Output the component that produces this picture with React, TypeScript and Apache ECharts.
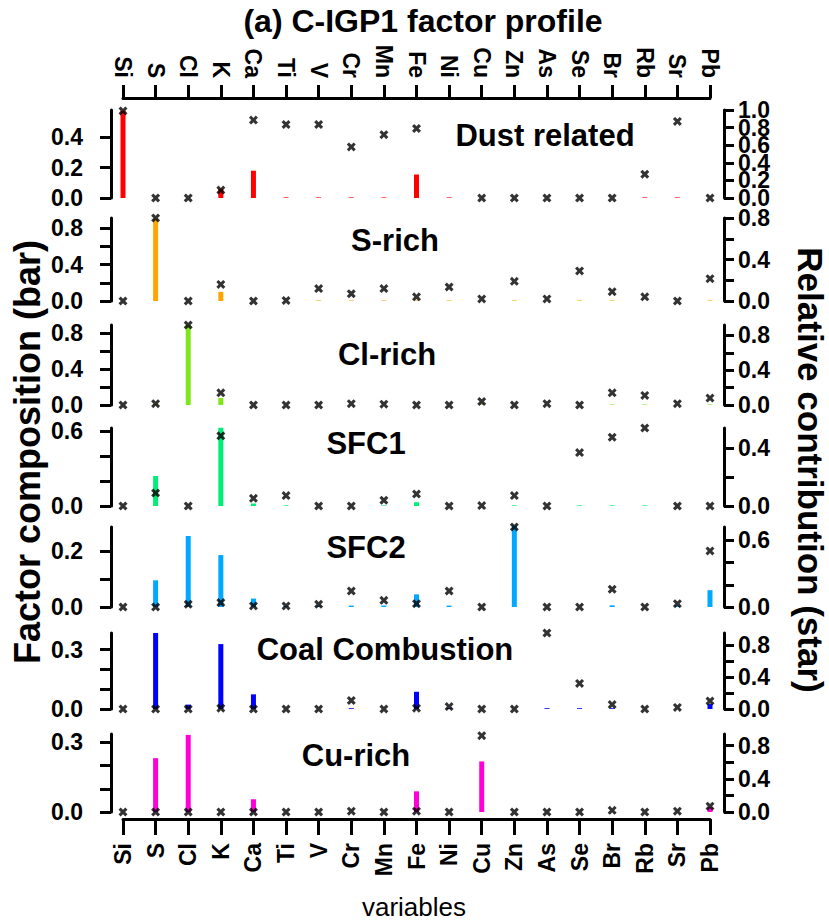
import React, { useEffect, useRef } from "react";
import * as echarts from "echarts";

const categories = ["Si", "S", "Cl", "K", "Ca", "Ti", "V", "Cr", "Mn", "Fe", "Ni", "Cu", "Zn", "As", "Se", "Br", "Rb", "Sr", "Pb"];

const panelNames = ["Dust related", "S-rich", "Cl-rich", "SFC1", "SFC2", "Coal Combustion", "Cu-rich"];

const dustBars = [0.575, 0, 0, 0.06, 0.18, 0.004, 0.004, 0.004, 0.004, 0.155, 0.004, 0, 0, 0, 0, 0, 0.004, 0.004, 0];
const dustStars = [0.99, 0, 0, 0.09, 0.885, 0.835, 0.835, 0.58, 0.72, 0.79, null, 0, 0, 0, 0, 0, 0.27, 0.87, 0];

const sRichBars = [0, 0.9, 0, 0.1, 0, 0, 0.006, 0.006, 0.006, 0.006, 0.006, 0, 0.006, 0, 0.006, 0.006, 0, 0, 0.006];
const sRichStars = [0, 0.8, 0, 0.16, 0, 0.005, 0.12, 0.07, 0.12, 0.04, 0.135, 0.02, 0.19, 0.02, 0.29, 0.09, 0.04, 0, 0.215];

const clRichBars = [0, 0.01, 0.89, 0.078, 0, 0, 0, 0, 0, 0, 0, 0.005, 0, 0, 0, 0.006, 0.006, 0, 0.006];
const clRichStars = [0, 0.015, 0.92, 0.14, 0, 0, 0, 0.015, 0.01, 0, 0, 0.04, 0, 0.015, 0, 0.14, 0.11, 0.015, 0.08];

const sfc1Bars = [0, 0.24, 0, 0.627, 0.02, 0.005, 0, 0, 0.005, 0.03, 0, 0, 0.005, 0, 0.005, 0.005, 0.005, 0, 0];
const sfc1Stars = [0, 0.09, 0, 0.486, 0.053, 0.072, 0, 0, 0.04, 0.083, 0, 0.003, 0.072, 0, 0.37, 0.476, 0.54, 0, 0];

const sfc2Bars = [0, 0.095, 0.253, 0.185, 0.03, 0.004, 0.005, 0.005, 0.005, 0.045, 0.005, 0, 0.29, 0, 0, 0.006, 0, 0.005, 0.06];
const sfc2Stars = [0, 0, 0.025, 0.04, 0.01, 0.01, 0.025, 0.144, 0.06, 0.03, 0.144, 0, 0.72, 0, 0, 0.16, 0, 0.03, 0.505];

const coalBars = [0, 0.384, 0.022, 0.328, 0.074, 0, 0, 0.004, 0, 0.087, 0.004, 0, 0, 0.004, 0.004, 0.004, 0, 0, 0.025];
const coalStars = [0, 0, 0, 0.01, 0, 0, 0, 0.106, 0, 0.01, 0.03, 0, 0, 0.95, 0.32, 0.055, 0, 0.02, 0.1];

const cuRichBars = [0, 0.232, 0.332, 0, 0.055, 0, 0, 0, 0, 0.089, 0, 0.218, 0, 0, 0, 0, 0, 0, 0.02];
const cuRichStars = [0, 0, 0, 0, 0, 0, 0, 0.01, 0, 0.01, 0, 0.92, 0, 0, 0, 0.02, 0, 0.01, 0.07];

const barSeries = [dustBars, sRichBars, clRichBars, sfc1Bars, sfc2Bars, coalBars, cuRichBars];
const starSeries = [dustStars, sRichStars, clRichStars, sfc1Stars, sfc2Stars, coalStars, cuRichStars];

const leftMax = [0.58, 0.91, 0.89, 0.625, 0.285, 0.384, 0.336];
const rightMax = [1.0, 0.8, 0.92, 0.54, 0.72, 0.95, 0.94];
const leftTicks = [[0, 0.2, 0.4], [0, 0.2, 0.4, 0.6, 0.8], [0, 0.2, 0.4, 0.6, 0.8], [0, 0.2, 0.4, 0.6], [0, 0.1, 0.2], [0, 0.1, 0.2, 0.3], [0, 0.1, 0.2, 0.3]];
const leftLabels = [[0, 0.2, 0.4], [0, 0.4, 0.8], [0, 0.4, 0.8], [0, 0.6], [0, 0.2], [0, 0.3], [0, 0.3]];
const rightTicks = [[0, 0.2, 0.4, 0.6, 0.8, 1.0], [0, 0.2, 0.4, 0.6, 0.8], [0, 0.2, 0.4, 0.6, 0.8], [0, 0.2, 0.4], [0, 0.2, 0.4, 0.6], [0, 0.2, 0.4, 0.6, 0.8], [0, 0.2, 0.4, 0.6, 0.8]];
const rightLabels = [[0, 0.4, 0.8], [0, 0.4, 0.8], [0, 0.4, 0.8], [0, 0.4], [0, 0.6], [0, 0.4, 0.8], [0, 0.4, 0.8]];
// the dust panel's right axis also carries these labels (drawn by a second, overlapping axis)
const dustRightExtraLabels = [0.2, 0.6, 1.0];

const colors = ["#ff0000", "#ffa500", "#7fe61a", "#00ee76", "#00a8ff", "#0000ff", "#ff00d8"];
const gridTops = [110, 218, 325, 428, 527, 633, 734];
const gridBottoms = [198, 301, 405, 506, 607, 709, 812];
const labelPos = [[545, 135], [395, 240], [387, 354], [366, 443], [366, 547], [385, 649], [356, 755]];

const FONT = "Liberation Sans, Arial, sans-serif";
const STAR = "path://M0,2.4 L2.4,0 L5,2.6 L7.6,0 L10,2.4 L7.4,5 L10,7.6 L7.6,10 L5,7.4 L2.4,10 L0,7.6 L2.6,5 Z";

export default function App() {
  const ref = useRef<HTMLDivElement>(null);
  useEffect(() => {
    if (!ref.current) return;
    const chart = echarts.init(ref.current, null, { renderer: "svg" });
    const grid: any[] = [];
    const xAxis: any[] = [];
    const yAxis: any[] = [];
    const series: any[] = [];
    const graphic: any[] = [];
    const axisLine = { show: true, onZero: false, lineStyle: { color: "#000", width: 3 } };
    const tickLabel = { color: "#000", fontSize: 23, fontWeight: "bold", fontFamily: FONT, showMinLabel: true, showMaxLabel: true, hideOverlap: false };
    const fmt = (v: number) => v.toFixed(1);
    for (let i = 0; i < 7; i++) {
      grid.push({ left: 123, right: 119, top: gridTops[i], height: gridBottoms[i] - gridTops[i] });
      const isTop = i === 0;
      const isBottom = i === 6;
      xAxis.push({
        type: "category",
        gridIndex: i,
        data: categories,
        boundaryGap: false,
        show: isTop || isBottom,
        position: isTop ? "top" : "bottom",
        offset: isTop ? 12 : 7,
        axisLine,
        axisTick: { show: true, length: isTop ? 13 : 16, lineStyle: { color: "#000", width: 3 } },
        axisLabel: { ...tickLabel, fontSize: 23, rotate: 90, margin: isTop ? 20 : 24, interval: 0 },
        splitLine: { show: false },
      });
      const leftIdx = yAxis.length;
      yAxis.push({
        type: "value",
        gridIndex: i,
        position: "left",
        min: 0,
        max: leftMax[i],
        offset: 12,
        axisLine,
        axisTick: { show: true, length: 11, lineStyle: { color: "#000", width: 3 }, customValues: leftTicks[i] },
        axisLabel: { ...tickLabel, margin: 28, customValues: leftLabels[i], formatter: fmt },
        splitLine: { show: false },
      });
      const rightIdx = yAxis.length;
      yAxis.push({
        type: "value",
        gridIndex: i,
        position: "right",
        min: 0,
        max: rightMax[i],
        offset: 14,
        axisLine,
        axisTick: { show: true, length: 10, lineStyle: { color: "#000", width: 3 }, customValues: rightTicks[i] },
        axisLabel: { ...tickLabel, margin: 14, customValues: rightLabels[i], formatter: fmt },
        splitLine: { show: false },
      });
      if (isTop) {
        yAxis.push({
          type: "value",
          gridIndex: i,
          position: "right",
          min: 0,
          max: rightMax[i],
          offset: 14,
          axisLine: { show: false },
          axisTick: { show: false },
          axisLabel: { ...tickLabel, margin: 14, customValues: dustRightExtraLabels, formatter: fmt },
          splitLine: { show: false },
        });
      }
      series.push({
        type: "bar",
        xAxisIndex: i,
        yAxisIndex: leftIdx,
        data: barSeries[i],
        barWidth: 5,
        clip: false,
        itemStyle: { color: colors[i] },
      });
      series.push({
        type: "scatter",
        xAxisIndex: i,
        yAxisIndex: rightIdx,
        data: starSeries[i],
        symbol: STAR,
        symbolSize: 9,
        clip: false,
        z: 5,
        itemStyle: { color: "#000" },
      });
      graphic.push({
        type: "text",
        x: labelPos[i][0],
        y: labelPos[i][1],
        style: { text: panelNames[i], font: `bold 31px ${FONT}`, fill: "#000", textAlign: "center", textVerticalAlign: "middle" },
      });
    }
    graphic.push({
      type: "text", x: 423, y: 21,
      style: { text: "(a) C-IGP1 factor profile", font: `bold 32px ${FONT}`, fill: "#000", textAlign: "center", textVerticalAlign: "middle" },
    });
    graphic.push({
      type: "text", x: 414, y: 907,
      style: { text: "variables", font: `26px ${FONT}`, fill: "#000", textAlign: "center", textVerticalAlign: "middle" },
    });
    graphic.push({
      type: "text", x: 27, y: 452, rotation: Math.PI / 2,
      style: { text: "Factor composition (bar)", font: `bold 36px ${FONT}`, fill: "#000", textAlign: "center", textVerticalAlign: "middle" },
    });
    graphic.push({
      type: "text", x: 810, y: 470, rotation: -Math.PI / 2,
      style: { text: "Relative contribution (star)", font: `bold 35px ${FONT}`, fill: "#000", textAlign: "center", textVerticalAlign: "middle" },
    });
    chart.setOption({ animation: false, backgroundColor: "#fff", grid, xAxis, yAxis, series, graphic });
    return () => chart.dispose();
  }, []);
  return <div ref={ref} style={{ position: "fixed", left: 0, top: 0, width: 829, height: 921 }} />;
}
